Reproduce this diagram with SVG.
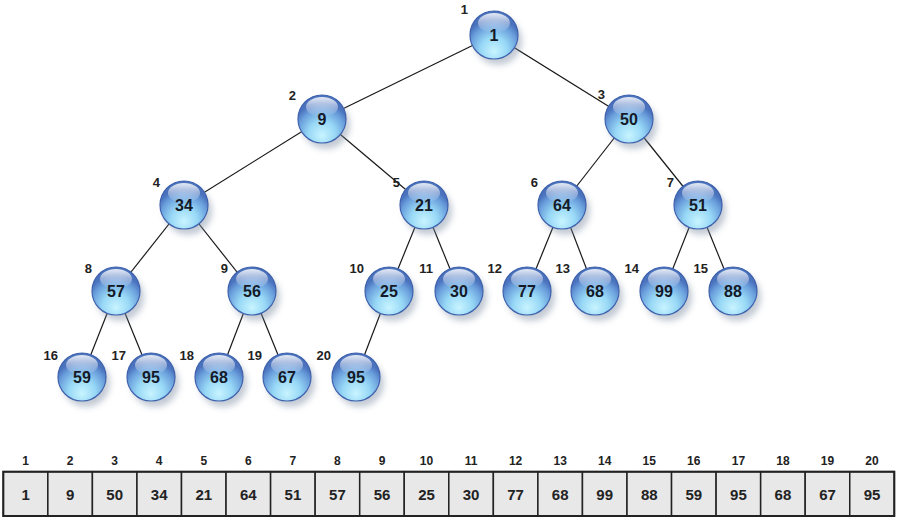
<svg xmlns="http://www.w3.org/2000/svg" width="899" height="521" viewBox="0 0 899 521">
<style>
.ball{fill:url(#ballGrad);stroke:#3f62ad;stroke-width:1.2}
.hl{fill:url(#hlGrad)}
.sh{fill:#7a8aa0;opacity:0.45;filter:url(#blur)}
.val{font-family:"Liberation Sans",Arial,sans-serif;font-weight:bold;font-size:16px;fill:#151a28;text-anchor:middle}
.idx{font-family:"Liberation Sans",Arial,sans-serif;font-weight:bold;font-size:13px;fill:#222;text-anchor:end}
.edge{stroke:#1a1a1a;stroke-width:1.2;fill:none}
.cell{fill:#e8e8e8;stroke:#222;stroke-width:1.5}
.aidx{font-family:"Liberation Sans",Arial,sans-serif;font-weight:bold;font-size:12px;fill:#222;text-anchor:middle}
.aval{font-family:"Liberation Sans",Arial,sans-serif;font-weight:bold;font-size:15px;fill:#222;text-anchor:middle}
</style>
<defs>
<radialGradient id="ballGrad" cx="50%" cy="78%" r="62%" fx="50%" fy="85%">
<stop offset="0%" stop-color="#c8f4ff"/>
<stop offset="45%" stop-color="#98d8f6"/>
<stop offset="80%" stop-color="#6a9fdc"/>
<stop offset="100%" stop-color="#4a72bd"/>
</radialGradient>
<linearGradient id="hlGrad" x1="0" y1="0" x2="0" y2="1">
<stop offset="0%" stop-color="#ffffff" stop-opacity="0.85"/>
<stop offset="100%" stop-color="#ffffff" stop-opacity="0"/>
</linearGradient>
<filter id="blur" x="-50%" y="-50%" width="200%" height="200%"><feGaussianBlur stdDeviation="3"/></filter>
<g id="ballShape">
<circle class="sh" cx="4" cy="6" r="24"/>
<circle class="ball" cx="0" cy="0" r="24"/>
<ellipse class="hl" cx="0" cy="-12" rx="16" ry="10"/>
</g>
</defs>
<rect width="899" height="521" fill="#ffffff"/>
<g id="connectors">
<line class="edge" x1="494" y1="35" x2="322" y2="119"/>
<line class="edge" x1="494" y1="35" x2="629" y2="119"/>
<line class="edge" x1="322" y1="119" x2="184" y2="205"/>
<line class="edge" x1="322" y1="119" x2="424" y2="205"/>
<line class="edge" x1="629" y1="119" x2="562" y2="205"/>
<line class="edge" x1="629" y1="119" x2="698" y2="205"/>
<line class="edge" x1="184" y1="205" x2="116" y2="291"/>
<line class="edge" x1="184" y1="205" x2="252" y2="291"/>
<line class="edge" x1="424" y1="205" x2="389" y2="291"/>
<line class="edge" x1="424" y1="205" x2="459" y2="291"/>
<line class="edge" x1="562" y1="205" x2="527" y2="291"/>
<line class="edge" x1="562" y1="205" x2="595" y2="291"/>
<line class="edge" x1="698" y1="205" x2="664" y2="291"/>
<line class="edge" x1="698" y1="205" x2="733" y2="291"/>
<line class="edge" x1="116" y1="291" x2="82" y2="377"/>
<line class="edge" x1="116" y1="291" x2="151" y2="377"/>
<line class="edge" x1="252" y1="291" x2="219" y2="377"/>
<line class="edge" x1="252" y1="291" x2="287" y2="377"/>
<line class="edge" x1="389" y1="291" x2="356" y2="377"/>
</g>
<g id="n1"><use href="#ballShape" x="494" y="35"/><text class="val" x="494" y="41">1</text><text class="idx" x="468" y="14">1</text></g>
<g id="n2"><use href="#ballShape" x="322" y="119"/><text class="val" x="322" y="125">9</text><text class="idx" x="296" y="100">2</text></g>
<g id="n3"><use href="#ballShape" x="629" y="119"/><text class="val" x="629" y="125">50</text><text class="idx" x="605" y="99">3</text></g>
<g id="n4"><use href="#ballShape" x="184" y="205"/><text class="val" x="184" y="211">34</text><text class="idx" x="160" y="187">4</text></g>
<g id="n5"><use href="#ballShape" x="424" y="205"/><text class="val" x="424" y="211">21</text><text class="idx" x="400" y="187">5</text></g>
<g id="n6"><use href="#ballShape" x="562" y="205"/><text class="val" x="562" y="211">64</text><text class="idx" x="538" y="187">6</text></g>
<g id="n7"><use href="#ballShape" x="698" y="205"/><text class="val" x="698" y="211">51</text><text class="idx" x="674" y="187">7</text></g>
<g id="n8"><use href="#ballShape" x="116" y="291"/><text class="val" x="116" y="297">57</text><text class="idx" x="92" y="273">8</text></g>
<g id="n9"><use href="#ballShape" x="252" y="291"/><text class="val" x="252" y="297">56</text><text class="idx" x="228" y="273">9</text></g>
<g id="n10"><use href="#ballShape" x="389" y="291"/><text class="val" x="389" y="297">25</text><text class="idx" x="364" y="273">10</text></g>
<g id="n11"><use href="#ballShape" x="459" y="291"/><text class="val" x="459" y="297">30</text><text class="idx" x="433" y="273">11</text></g>
<g id="n12"><use href="#ballShape" x="527" y="291"/><text class="val" x="527" y="297">77</text><text class="idx" x="502" y="273">12</text></g>
<g id="n13"><use href="#ballShape" x="595" y="291"/><text class="val" x="595" y="297">68</text><text class="idx" x="570" y="273">13</text></g>
<g id="n14"><use href="#ballShape" x="664" y="291"/><text class="val" x="664" y="297">99</text><text class="idx" x="639" y="273">14</text></g>
<g id="n15"><use href="#ballShape" x="733" y="291"/><text class="val" x="733" y="297">88</text><text class="idx" x="708" y="273">15</text></g>
<g id="n16"><use href="#ballShape" x="82" y="377"/><text class="val" x="82" y="383">59</text><text class="idx" x="58" y="360">16</text></g>
<g id="n17"><use href="#ballShape" x="151" y="377"/><text class="val" x="151" y="383">95</text><text class="idx" x="126" y="360">17</text></g>
<g id="n18"><use href="#ballShape" x="219" y="377"/><text class="val" x="219" y="383">68</text><text class="idx" x="194" y="360">18</text></g>
<g id="n19"><use href="#ballShape" x="287" y="377"/><text class="val" x="287" y="383">67</text><text class="idx" x="262" y="360">19</text></g>
<g id="n20"><use href="#ballShape" x="356" y="377"/><text class="val" x="356" y="383">95</text><text class="idx" x="331" y="360">20</text></g>
<g id="array">
<rect class="cell" x="3.3" y="471.7" width="44.55" height="44.3"/>
<rect class="cell" x="47.85" y="471.7" width="44.55" height="44.3"/>
<rect class="cell" x="92.4" y="471.7" width="44.55" height="44.3"/>
<rect class="cell" x="136.95" y="471.7" width="44.55" height="44.3"/>
<rect class="cell" x="181.5" y="471.7" width="44.55" height="44.3"/>
<rect class="cell" x="226.05" y="471.7" width="44.55" height="44.3"/>
<rect class="cell" x="270.6" y="471.7" width="44.55" height="44.3"/>
<rect class="cell" x="315.15" y="471.7" width="44.55" height="44.3"/>
<rect class="cell" x="359.7" y="471.7" width="44.55" height="44.3"/>
<rect class="cell" x="404.25" y="471.7" width="44.55" height="44.3"/>
<rect class="cell" x="448.8" y="471.7" width="44.55" height="44.3"/>
<rect class="cell" x="493.35" y="471.7" width="44.55" height="44.3"/>
<rect class="cell" x="537.9" y="471.7" width="44.55" height="44.3"/>
<rect class="cell" x="582.45" y="471.7" width="44.55" height="44.3"/>
<rect class="cell" x="627" y="471.7" width="44.55" height="44.3"/>
<rect class="cell" x="671.55" y="471.7" width="44.55" height="44.3"/>
<rect class="cell" x="716.1" y="471.7" width="44.55" height="44.3"/>
<rect class="cell" x="760.65" y="471.7" width="44.55" height="44.3"/>
<rect class="cell" x="805.2" y="471.7" width="44.55" height="44.3"/>
<rect class="cell" x="849.75" y="471.7" width="44.55" height="44.3"/>
<rect x="3.3" y="471.7" width="891" height="44.3" fill="none" stroke="#222" stroke-width="2"/>
<text class="aidx" x="25.6" y="465">1</text>
<text class="aidx" x="70.1" y="465">2</text>
<text class="aidx" x="114.7" y="465">3</text>
<text class="aidx" x="159.2" y="465">4</text>
<text class="aidx" x="203.8" y="465">5</text>
<text class="aidx" x="248.3" y="465">6</text>
<text class="aidx" x="292.9" y="465">7</text>
<text class="aidx" x="337.4" y="465">8</text>
<text class="aidx" x="382" y="465">9</text>
<text class="aidx" x="426.5" y="465">10</text>
<text class="aidx" x="471.1" y="465">11</text>
<text class="aidx" x="515.6" y="465">12</text>
<text class="aidx" x="560.2" y="465">13</text>
<text class="aidx" x="604.7" y="465">14</text>
<text class="aidx" x="649.3" y="465">15</text>
<text class="aidx" x="693.8" y="465">16</text>
<text class="aidx" x="738.4" y="465">17</text>
<text class="aidx" x="782.9" y="465">18</text>
<text class="aidx" x="827.5" y="465">19</text>
<text class="aidx" x="872" y="465">20</text>
<text class="aval" x="25.6" y="499.5">1</text>
<text class="aval" x="70.1" y="499.5">9</text>
<text class="aval" x="114.7" y="499.5">50</text>
<text class="aval" x="159.2" y="499.5">34</text>
<text class="aval" x="203.8" y="499.5">21</text>
<text class="aval" x="248.3" y="499.5">64</text>
<text class="aval" x="292.9" y="499.5">51</text>
<text class="aval" x="337.4" y="499.5">57</text>
<text class="aval" x="382" y="499.5">56</text>
<text class="aval" x="426.5" y="499.5">25</text>
<text class="aval" x="471.1" y="499.5">30</text>
<text class="aval" x="515.6" y="499.5">77</text>
<text class="aval" x="560.2" y="499.5">68</text>
<text class="aval" x="604.7" y="499.5">99</text>
<text class="aval" x="649.3" y="499.5">88</text>
<text class="aval" x="693.8" y="499.5">59</text>
<text class="aval" x="738.4" y="499.5">95</text>
<text class="aval" x="782.9" y="499.5">68</text>
<text class="aval" x="827.5" y="499.5">67</text>
<text class="aval" x="872" y="499.5">95</text>
</g>
</svg>
